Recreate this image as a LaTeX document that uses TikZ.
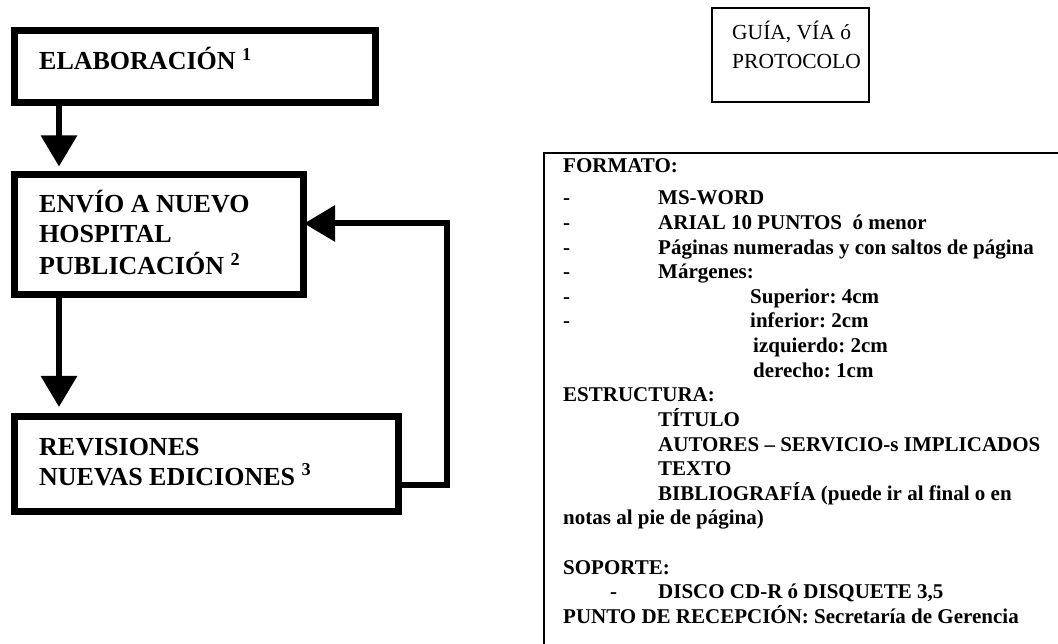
\documentclass[tikz,border=0pt]{standalone}
\usepackage{fontspec}
\setmainfont{Liberation Serif}
\usetikzlibrary{arrows.meta}

\tikzset{
  stepbox/.style={draw, line width=7pt, inner sep=0pt},
  thinbox/.style={draw, line width=2pt, inner sep=0pt},
  flow/.style={line width=6pt, -{Triangle[length=31pt,width=35pt]}},
  boxtext/.style={anchor=base west, inner sep=0pt, font=\fontsize{26}{31}\selectfont\bfseries},
  guiatext/.style={anchor=base west, inner sep=0pt, font=\fontsize{21.5}{30}\selectfont},
  listtext/.style={anchor=base west, inner sep=0pt, font=\fontsize{21}{25}\selectfont\bfseries}
}

\begin{document}
\frenchspacing
\begin{tikzpicture}[x=1pt, y=-1pt]
	\useasboundingbox (0,0) rectangle (1058,644);

	% Flow boxes
	\node[stepbox, minimum width=361pt, minimum height=72pt] (elab) at (195,67) {};
	\node[stepbox, minimum width=289pt, minimum height=120pt] (envio) at (159,234.5) {};
	\node[stepbox, minimum width=384pt, minimum height=95pt] (revis) at (206.5,464) {};

	% Box texts
	\node[boxtext] (elab1) at (39,70) {ELABORACIÓN \textsuperscript{1}};
	\node[boxtext] (envio1) at (39,213) {ENVÍO A NUEVO};
	\node[boxtext] (envio2) at (39,243) {HOSPITAL};
	\node[boxtext] (envio3) at (39,275) {PUBLICACIÓN \textsuperscript{2}};
	\node[boxtext] (revis1) at (39,455) {REVISIONES};
	\node[boxtext] (revis2) at (39,485) {NUEVAS EDICIONES \textsuperscript{3}};

	% Arrows
	\draw[flow, shorten >=4.5pt] ([xshift=48pt]elab.south west) -- ([xshift=48pt]envio.north west);
	\draw[flow, shorten >=6pt] ([xshift=48pt]envio.south west) -- ([xshift=48pt]revis.north west);

	% Feedback loop
	\coordinate (loopbot) at (446.5,485);
	\coordinate (looptop) at (446.5,223.5);
	\draw[flow, shorten >=-3pt] (revis.east |- loopbot) -- (loopbot) -- (looptop) -- (envio.east |- looptop);

	% Title box
	\node[thinbox, minimum width=157pt, minimum height=94pt] (guia) at (790.5,55) {};
	\node[guiatext] (guia1) at (732,40) {GUÍA, VÍA ó};
	\node[guiatext] (guia2) at (732,69) {PROTOCOLO};

	% Format box (runs off the page)
	\begin{scope}
		\clip (0,0) rectangle (1058,644);
		\draw[line width=2pt] (544,153) rectangle (1100,700);
	\end{scope}

	\node[listtext] (fmt0) at (563,173) {FORMATO:};
	\foreach \r/\x/\t in {1/658/{MS-WORD},
		2/658/{ARIAL 10 PUNTOS\ \ ó menor},
		3/658/{Páginas numeradas y con saltos de página},
		4/658/{Márgenes:},
		5/750/{Superior: 4cm},
		6/750/{inferior: 2cm},
		7/753/{izquierdo: 2cm},
		8/753/{derecho: 1cm},
		9/563/{ESTRUCTURA:},
		10/658/{TÍTULO},
		11/658/{AUTORES – SERVICIO-s IMPLICADOS},
		12/658/{TEXTO},
		13/658/{BIBLIOGRAFÍA (puede ir al final o en},
		14/563/{notas al pie de página)},
		16/563/{SOPORTE:},
		17/658/{DISCO CD-R ó DISQUETE 3,5},
		18/563/{PUNTO DE RECEPCIÓN: Secretaría de Gerencia}}
		\node[listtext] (fmt\r) at (\x,{180.4+24.6*\r}) {\t};

	% Dashes
	\foreach \r in {1,...,6}
		\node[listtext] (dash\r) at (563,{180.4+24.6*\r}) {-};
	\node[listtext] (dash17) at (610,{180.4+24.6*17}) {-};

\end{tikzpicture}
\end{document}
